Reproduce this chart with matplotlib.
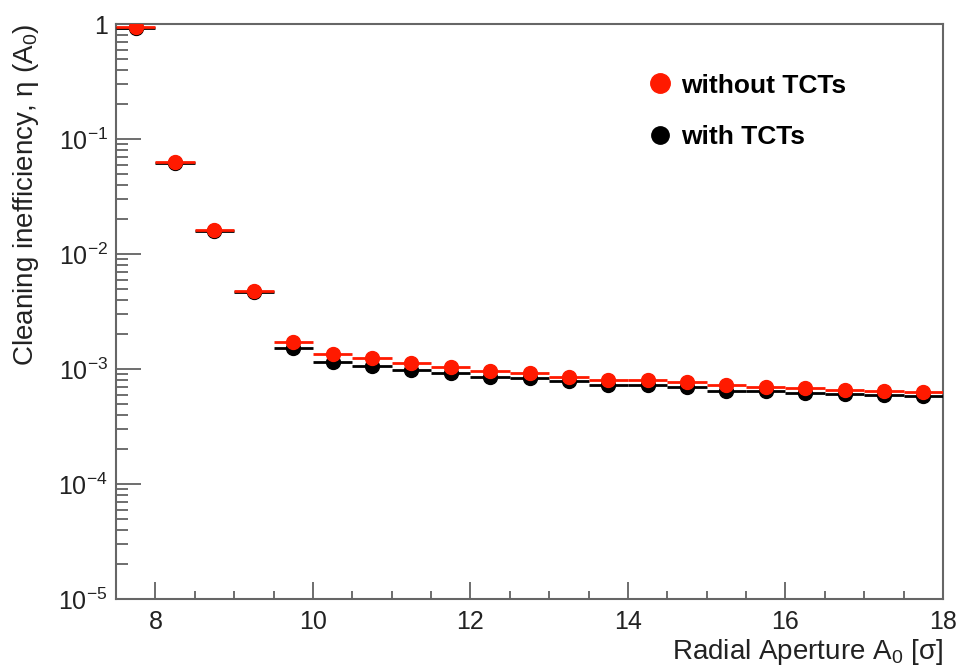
import numpy as np
import matplotlib
matplotlib.use("Agg")
import matplotlib.pyplot as plt
from matplotlib.lines import Line2D
from matplotlib.ticker import FixedLocator, FuncFormatter, MultipleLocator

plt.rcParams['font.family'] = ['Liberation Sans', 'DejaVu Sans']
plt.rcParams['mathtext.fontset'] = 'custom'
plt.rcParams['mathtext.rm'] = 'Liberation Sans'
plt.rcParams['mathtext.it'] = 'Liberation Sans:italic'
plt.rcParams['mathtext.bf'] = 'Liberation Sans:bold'

# --- Data (bin centres, bin half width 0.25 sigma) ---
aperture = [7.75, 8.25, 8.75, 9.25, 9.75, 10.25, 10.75, 11.25, 11.75, 12.25, 12.75,
            13.25, 13.75, 14.25, 14.75, 15.25, 15.75, 16.25, 16.75, 17.25, 17.75]
bin_half_width = 0.25

eta_without_tct = [0.94, 0.063, 0.0162, 0.0048, 1.73e-3, 1.35e-3, 1.24e-3, 1.12e-3,
                   1.05e-3, 0.97e-3, 0.92e-3, 0.86e-3, 0.81e-3, 0.80e-3, 0.77e-3,
                   0.72e-3, 0.70e-3, 0.68e-3, 0.66e-3, 0.64e-3, 0.63e-3]
eta_with_tct = [0.93, 0.062, 0.0158, 0.0047, 1.52e-3, 1.16e-3, 1.06e-3, 0.98e-3,
                0.92e-3, 0.85e-3, 0.83e-3, 0.78e-3, 0.72e-3, 0.72e-3, 0.70e-3,
                0.65e-3, 0.64e-3, 0.62e-3, 0.61e-3, 0.59e-3, 0.58e-3]

RED = '#ff1a00'

fig = plt.figure(figsize=(9.59, 6.67), dpi=100)
ax = fig.add_axes([116 / 959, 1 - 599 / 667, (943 - 116) / 959, (599 - 24) / 667])

ax.errorbar(aperture, eta_with_tct, xerr=bin_half_width, fmt='o', color='black',
            ms=10, elinewidth=2, capsize=0, zorder=3)
ax.errorbar(aperture, eta_without_tct, xerr=bin_half_width, fmt='o', color=RED,
            ms=10, elinewidth=2, capsize=0, zorder=4)

ax.set_yscale('log')
ax.set_xlim(7.5, 18)
ax.set_ylim(1e-5, 1)

# ROOT-like ticks
ax.xaxis.set_major_locator(MultipleLocator(2))
ax.xaxis.set_minor_locator(MultipleLocator(0.5))
ax.yaxis.set_major_locator(FixedLocator([1e-5, 1e-4, 1e-3, 1e-2, 1e-1, 1]))
minors = [m * 10.0 ** e for e in range(-5, 0) for m in range(2, 10)]
ax.yaxis.set_minor_locator(FixedLocator(minors))


def ylab(v, pos):
    e = int(round(np.log10(v)))
    if e == 0:
        return '1'
    return r'$\mathregular{10^{%d}}$' % e


ax.yaxis.set_major_formatter(FuncFormatter(ylab))
ax.tick_params(axis='both', which='both', direction='in', colors='#555555',
               labelcolor='#222222', labelsize=18, top=False, right=False)
ax.tick_params(axis='x', which='major', length=12, width=1.2, pad=8)
ax.tick_params(axis='x', which='minor', length=6, width=1.2)
ax.tick_params(axis='y', which='major', length=18, width=1.2, pad=6)
ax.tick_params(axis='y', which='minor', length=8.5, width=1.2)
for s in ax.spines.values():
    s.set_color('#666666')
    s.set_linewidth(1.5)

ax.set_xlabel(r'Radial Aperture A$_{\mathregular{0}}$ [σ]', fontsize=20,
              color='#222222', loc='right', labelpad=2)
ax.set_ylabel(r'Cleaning inefficiency, η (A$_{\mathregular{0}}$)', fontsize=20,
              color='#222222', loc='top', labelpad=12)

# legend: markers only, as in the ROOT original
handles = [Line2D([], [], ls='none', marker='o', ms=14, color=RED),
           Line2D([], [], ls='none', marker='o', ms=12.5, color='black')]
ax.legend(handles, ['without TCTs', 'with TCTs'], loc='upper left',
          bbox_to_anchor=(0.623, 0.932), frameon=False, handletextpad=0.1,
          labelspacing=1.05, prop={'weight': 'bold', 'size': 19},
          handlelength=1.4, borderaxespad=0)

fig.savefig('out.png', dpi=100)
